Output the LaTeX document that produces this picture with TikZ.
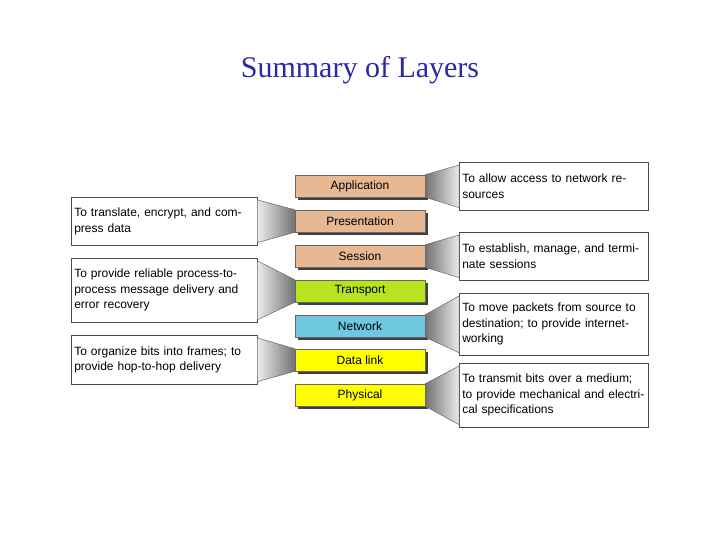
\documentclass[tikz,border=0pt]{standalone}
\usepackage{fontspec}
\setmainfont{Liberation Serif}
\newfontfamily\mysans{Liberation Sans}
\begin{document}
\begin{tikzpicture}[x=1pt,y=-1pt,
  layer/.style={draw=black!60,line width=0.6pt,minimum width=130pt,minimum height=22pt,inner sep=0pt,font=\mysans\fontsize{12}{12}\selectfont},
  call/.style={draw=black!70,line width=0.6pt,fill=white,anchor=north west,text width=183pt,inner sep=3pt,align=left,font=\mysans\fontsize{12}{15.5}\selectfont,minimum width=189pt},
  shad/.style={fill=black!75}]
\useasboundingbox (0,0) rectangle (720,540);
\definecolor{peach}{RGB}{232,184,146}
\definecolor{tgreen}{RGB}{182,228,30}
\definecolor{nblue}{RGB}{112,200,224}
\definecolor{dyel}{RGB}{255,255,0}
\definecolor{tblue}{RGB}{40,40,170}
\node[font=\fontsize{30}{30}\selectfont,text=tblue] (title) at (360,70) {Summary of Layers};
% layers
\foreach \n/\t/\c/\y in {app/Application/peach/186,pre/Presentation/peach/221,ses/Session/peach/256,tra/Transport/tgreen/291,net/Network/nblue/326,dat/Data link/dyel/360,phy/Physical/dyel/395}{
  \fill[shad] (298,\y-8) rectangle (428,\y+14);
  \node[layer,fill=\c] (\n) at (360,\y) {\t};
}
% right callouts
\node[call,minimum height=48pt] (capp) at (459,162) {To allow access to network resources};
\node[call,minimum height=48pt] (cses) at (459,232) {To establish, manage, and terminate sessions};
\node[call,minimum height=62pt] (cnet) at (459,293) {To move packets from source to destination; to provide internetworking};
\node[call,minimum height=64pt] (cphy) at (459,363) {To transmit bits over a medium; to provide mechanical and electrical specifications};
% left callouts
\node[call,minimum height=48pt,text width=180pt,minimum width=186pt] (cpre) at (71,197) {To translate, encrypt, and compress data};
\node[call,minimum height=64pt,text width=180pt,minimum width=186pt] (ctra) at (71,258) {To provide reliable process-to-process message delivery and error recovery};
\node[call,minimum height=49pt,text width=180pt,minimum width=186pt] (cdat) at (71,335) {To organize bits into frames; to provide hop-to-hop delivery};
% funnels right
\foreach \l/\c in {app/capp,ses/cses,net/cnet,phy/cphy}{
  \shade[left color=black!55,right color=black!8,draw=black!60,line width=0.5pt]
    (\l.north east) -- ([yshift=-3pt]\c.north west) -- ([yshift=3pt]\c.south west) -- (\l.south east) -- cycle;
}
% funnels left
\foreach \l/\c in {pre/cpre,tra/ctra,dat/cdat}{
  \shade[right color=black!55,left color=black!8,draw=black!60,line width=0.5pt]
    (\l.north west) -- ([yshift=-3pt]\c.north east) -- ([yshift=3pt]\c.south east) -- (\l.south west) -- cycle;
}
\end{tikzpicture}
\end{document}
